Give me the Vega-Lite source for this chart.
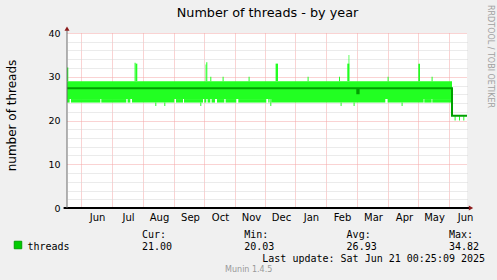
{
  "$schema": "https://vega.github.io/schema/vega-lite/v6.json",
  "width": 400,
  "height": 175,
  "autosize": {"type": "none"},
  "padding": {"left": 67, "top": 33, "right": 30, "bottom": 72},
  "background": "#f0f0f0",
  "config": {"view": {"stroke": null, "fill": "#ffffff"}, "font": "DejaVu Sans"},
  "title": {"text": "Munin 1.4.5", "orient": "bottom", "anchor": "middle", "frame": "group", "font": "DejaVu Sans", "fontSize": 8, "fontWeight": "normal", "color": "#999999", "baseline": "alphabetic", "offset": 9, "dx": -18.3},
  "datasets": {
    "bars": [
      {"a": 0, "b": 385, "lo": 24.9, "hi": 29.0},
      {"a": 0, "b": 2.6, "lo": 24.1, "hi": 24.9},
      {"a": 4, "b": 33.3, "lo": 24.1, "hi": 24.9},
      {"a": 34.3, "b": 59.3, "lo": 24.1, "hi": 24.9},
      {"a": 60.6, "b": 63.3, "lo": 24.1, "hi": 24.9},
      {"a": 65, "b": 107.3, "lo": 24.1, "hi": 24.9},
      {"a": 109, "b": 116, "lo": 24.1, "hi": 24.9},
      {"a": 117, "b": 136, "lo": 24.1, "hi": 24.9},
      {"a": 137.3, "b": 139.3, "lo": 24.1, "hi": 24.9},
      {"a": 140.6, "b": 143.3, "lo": 24.1, "hi": 24.9},
      {"a": 144.6, "b": 148, "lo": 24.1, "hi": 24.9},
      {"a": 150, "b": 157.3, "lo": 24.1, "hi": 24.9},
      {"a": 158.6, "b": 169.3, "lo": 24.1, "hi": 24.9},
      {"a": 171.3, "b": 199.3, "lo": 24.1, "hi": 24.9},
      {"a": 201.3, "b": 202.6, "lo": 24.1, "hi": 24.9},
      {"a": 204.3, "b": 318.3, "lo": 24.1, "hi": 24.9},
      {"a": 320.6, "b": 356.6, "lo": 24.1, "hi": 24.9},
      {"a": 357.3, "b": 364.6, "lo": 24.1, "hi": 24.9},
      {"a": 365.3, "b": 385, "lo": 24.1, "hi": 24.9},
      {"a": 88.3, "b": 89.3, "lo": 23.3, "hi": 24.1},
      {"a": 97.3, "b": 98.3, "lo": 23.3, "hi": 24.1},
      {"a": 133.3, "b": 134.3, "lo": 23.3, "hi": 24.1},
      {"a": 203.3, "b": 204.3, "lo": 23.3, "hi": 24.9},
      {"a": 273.6, "b": 274.6, "lo": 23.3, "hi": 24.1},
      {"a": 286.6, "b": 287.6, "lo": 23.3, "hi": 24.1},
      {"a": 334.6, "b": 335.6, "lo": 23.3, "hi": 24.1},
      {"a": 0, "b": 1.3, "lo": 29, "hi": 32.1},
      {"a": 67.6, "b": 68.6, "lo": 29, "hi": 33.2},
      {"a": 68.6, "b": 70.3, "lo": 29, "hi": 33.0},
      {"a": 138.6, "b": 139.3, "lo": 29, "hi": 32.8},
      {"a": 139.3, "b": 140.3, "lo": 29, "hi": 33.3},
      {"a": 143.3, "b": 144.3, "lo": 29, "hi": 30},
      {"a": 155.6, "b": 156.6, "lo": 29, "hi": 30},
      {"a": 181.6, "b": 182.6, "lo": 29, "hi": 30},
      {"a": 208.6, "b": 211, "lo": 29, "hi": 33.0},
      {"a": 240.6, "b": 241.6, "lo": 29, "hi": 30},
      {"a": 272, "b": 273, "lo": 29, "hi": 30},
      {"a": 280.3, "b": 282.3, "lo": 29, "hi": 33},
      {"a": 281.6, "b": 282.3, "lo": 29, "hi": 35},
      {"a": 320.6, "b": 321.6, "lo": 29, "hi": 30},
      {"a": 351.3, "b": 353, "lo": 29, "hi": 33},
      {"a": 364.6, "b": 365.6, "lo": 29, "hi": 30},
      {"a": 387.6, "b": 388.6, "lo": 20.0, "hi": 21.0},
      {"a": 392, "b": 393, "lo": 20.0, "hi": 21.0},
      {"a": 396.3, "b": 397.3, "lo": 20.0, "hi": 21.0}
    ],
    "dark": [
      {"a": 289.3, "b": 292.6, "lo": 26.0, "hi": 27.2}
    ],
    "line": [
      {"u": 0, "v": 27.4},
      {"u": 385, "v": 21.1},
      {"u": 400, "v": 21.1}
    ]
  },
  "layer": [
    {
      "data": {"name": "bars"},
      "mark": {"type": "rect", "color": "#22ff22"},
      "encoding": {
        "x": {"field": "a", "type": "quantitative", "scale": {"domain": [0, 400], "nice": false, "zero": false},
          "axis": {"orient": "bottom", "values": [13.6, 44.6, 75.6, 106.6, 136.6, 167.6, 197.6, 227.6, 258.6, 289.6, 320.6, 350.6, 381.6],
            "grid": true, "gridColor": "#f4a6a6", "gridDash": [1, 1], "gridWidth": 1,
            "domain": false, "ticks": false, "tickSize": 0,
            "labelExpr": "['Jun','Jul','Aug','Sep','Oct','Nov','Dec','Jan','Feb','Mar','Apr','May','Jun'][round((datum.value-13.6)/30.67)]",
            "labelOffset": 16.4, "labelPadding": 12.3, "labelBaseline": "alphabetic", "labelAlign": "center",
            "labelFont": "DejaVu Sans", "labelFontSize": 10, "labelColor": "#000000", "labelFlush": false, "labelOverlap": false, "labelBound": false,
            "title": [
              "\u200b\u00a0\u00a0\u00a0\u00a0\u00a0\u00a0\u00a0\u00a0\u00a0\u00a0\u00a0\u00a0\u00a0\u00a0\u00a0\u00a0\u00a0\u00a0\u00a0Cur:\u00a0\u00a0\u00a0\u00a0\u00a0\u00a0\u00a0\u00a0\u00a0\u00a0\u00a0\u00a0\u00a0Min:\u00a0\u00a0\u00a0\u00a0\u00a0\u00a0\u00a0\u00a0\u00a0\u00a0\u00a0\u00a0\u00a0Avg:\u00a0\u00a0\u00a0\u00a0\u00a0\u00a0\u00a0\u00a0\u00a0\u00a0\u00a0\u00a0\u00a0Max:",
              "threads\u00a0\u00a0\u00a0\u00a0\u00a0\u00a0\u00a0\u00a0\u00a0\u00a0\u00a0\u00a021.00\u00a0\u00a0\u00a0\u00a0\u00a0\u00a0\u00a0\u00a0\u00a0\u00a0\u00a0\u00a020.03\u00a0\u00a0\u00a0\u00a0\u00a0\u00a0\u00a0\u00a0\u00a0\u00a0\u00a0\u00a026.93\u00a0\u00a0\u00a0\u00a0\u00a0\u00a0\u00a0\u00a0\u00a0\u00a0\u00a0\u00a034.82",
              "\u200b\u00a0\u00a0\u00a0\u00a0\u00a0\u00a0\u00a0\u00a0\u00a0\u00a0\u00a0\u00a0\u00a0\u00a0\u00a0\u00a0\u00a0\u00a0\u00a0\u00a0\u00a0\u00a0\u00a0\u00a0\u00a0\u00a0\u00a0\u00a0\u00a0\u00a0\u00a0\u00a0\u00a0\u00a0\u00a0\u00a0\u00a0\u00a0\u00a0Last\u00a0update:\u00a0Sat\u00a0Jun\u00a021\u00a000:25:09\u00a02025"
            ],
            "titleFont": "DejaVu Sans Mono", "titleFontSize": 10, "titleFontWeight": "normal", "titleColor": "#000000",
            "titleAlign": "left", "titleX": -40, "titleY": 29, "titleBaseline": "alphabetic", "titleLineHeight": 12.2}},
        "x2": {"field": "b"},
        "y": {"field": "lo", "type": "quantitative", "scale": {"domain": [0, 40], "nice": false},
          "axis": {"orient": "left", "values": [0, 10, 20, 30, 40], "grid": true, "gridColor": "#f4a6a6", "gridDash": [1, 1],
            "domain": false, "ticks": false, "tickSize": 0, "labelPadding": 7,
            "labelFont": "DejaVu Sans", "labelFontSize": 9.5, "labelColor": "#000000", "labelBaseline": "middle", "labelAlign": "right",
            "title": "number of threads", "titleFont": "DejaVu Sans", "titleFontSize": 12, "titleFontWeight": "normal", "titleColor": "#000000",
            "titleAngle": 270, "titleX": -52, "titleY": 82, "titleAlign": "center", "titleBaseline": "alphabetic"}},
        "y2": {"field": "hi"}
      }
    },
    {
      "data": {"values": [{"u": 0, "v": 0}]},
      "mark": {"type": "point", "opacity": 0},
      "encoding": {
        "x": {"field": "u", "type": "quantitative", "scale": {"domain": [0, 400], "nice": false, "zero": false},
          "axis": {"orient": "top", "grid": false, "domain": false, "ticks": false, "labels": false,
            "title": "Number of threads - by year", "titleFont": "DejaVu Sans", "titleFontSize": 12.8, "titleFontWeight": "normal", "titleColor": "#000000",
            "titleX": 200, "titleY": -16.7, "titleAlign": "center", "titleBaseline": "alphabetic"}},
        "y": {"field": "v", "type": "quantitative", "scale": {"domain": [0, 40], "nice": false},
          "axis": {"orient": "right", "values": [2, 4, 6, 8, 12, 14, 16, 18, 22, 24, 26, 28, 32, 34, 36, 38],
            "grid": true, "gridColor": "#d6d6d6", "gridDash": [1, 1], "domain": false, "ticks": false, "labels": false,
            "title": "RRDTOOL / TOBI OETIKER", "titleFont": "DejaVu Sans", "titleFontSize": 8, "titleFontWeight": "normal", "titleColor": "#a0a0a0",
            "titleAngle": 90, "titleX": 22, "titleY": 23, "titleAlign": "center", "titleBaseline": "middle"}}
      }
    },
    {
      "data": {"name": "dark"},
      "mark": {"type": "rect", "color": "#00a000"},
      "encoding": {
        "x": {"field": "a", "type": "quantitative", "scale": {"domain": [0, 400], "nice": false, "zero": false}, "axis": null},
        "x2": {"field": "b"},
        "y": {"field": "lo", "type": "quantitative", "scale": {"domain": [0, 40], "nice": false}, "axis": null},
        "y2": {"field": "hi"}
      }
    },
    {
      "data": {"name": "line"},
      "mark": {"type": "line", "interpolate": "step-after", "strokeWidth": 2},
      "encoding": {
        "x": {"field": "u", "type": "quantitative", "scale": {"domain": [0, 400], "nice": false, "zero": false}, "axis": null},
        "y": {"field": "v", "type": "quantitative", "scale": {"domain": [0, 40], "nice": false}, "axis": null},
        "stroke": {"datum": "threads", "scale": {"range": ["#00a000"]},
          "legend": {"orient": "none", "legendX": -54, "legendY": 207, "title": null, "symbolType": "square", "symbolSize": 56,
            "symbolStrokeWidth": 1, "labelExpr": "''", "padding": 0,
            "encode": {"symbols": {"update": {"fill": {"value": "#00cc00"}, "stroke": {"value": "#000000"}, "strokeWidth": {"value": 1}, "opacity": {"value": 1}}}}}}
      }
    },
    {
      "data": {"values": [{}]},
      "mark": {"type": "rule", "color": "#000000", "strokeWidth": 2},
      "encoding": {
        "x": {"datum": -3.4, "type": "quantitative", "scale": {"domain": [0, 400], "nice": false, "zero": false}, "axis": null},
        "x2": {"datum": 403},
        "y": {"datum": 0, "type": "quantitative", "scale": {"domain": [0, 40], "nice": false}, "axis": null}
      }
    },
    {
      "data": {"values": [{}]},
      "mark": {"type": "rule", "color": "#6a6a6a", "strokeWidth": 1},
      "encoding": {
        "x": {"datum": 0, "type": "quantitative", "scale": {"domain": [0, 400], "nice": false, "zero": false}, "axis": null},
        "y": {"datum": 0, "type": "quantitative", "scale": {"domain": [0, 40], "nice": false}, "axis": null},
        "y2": {"datum": 40.6}
      }
    },
    {
      "data": {"values": [{}]},
      "mark": {"type": "point", "shape": "triangle-up", "filled": true, "color": "#8b1a1a", "size": 25, "opacity": 1},
      "encoding": {
        "x": {"datum": 0, "type": "quantitative", "scale": {"domain": [0, 400], "nice": false, "zero": false}, "axis": null},
        "y": {"datum": 41, "type": "quantitative", "scale": {"domain": [0, 40], "nice": false}, "axis": null}
      }
    },
    {
      "data": {"values": [{}]},
      "mark": {"type": "point", "shape": "triangle-right", "filled": true, "color": "#8b1a1a", "size": 25, "opacity": 1},
      "encoding": {
        "x": {"datum": 404, "type": "quantitative", "scale": {"domain": [0, 400], "nice": false, "zero": false}, "axis": null},
        "y": {"datum": 0, "type": "quantitative", "scale": {"domain": [0, 40], "nice": false}, "axis": null}
      }
    }
  ],
  "resolve": {"scale": {"x": "independent", "y": "independent"}, "axis": {"x": "independent", "y": "independent"}}
}
